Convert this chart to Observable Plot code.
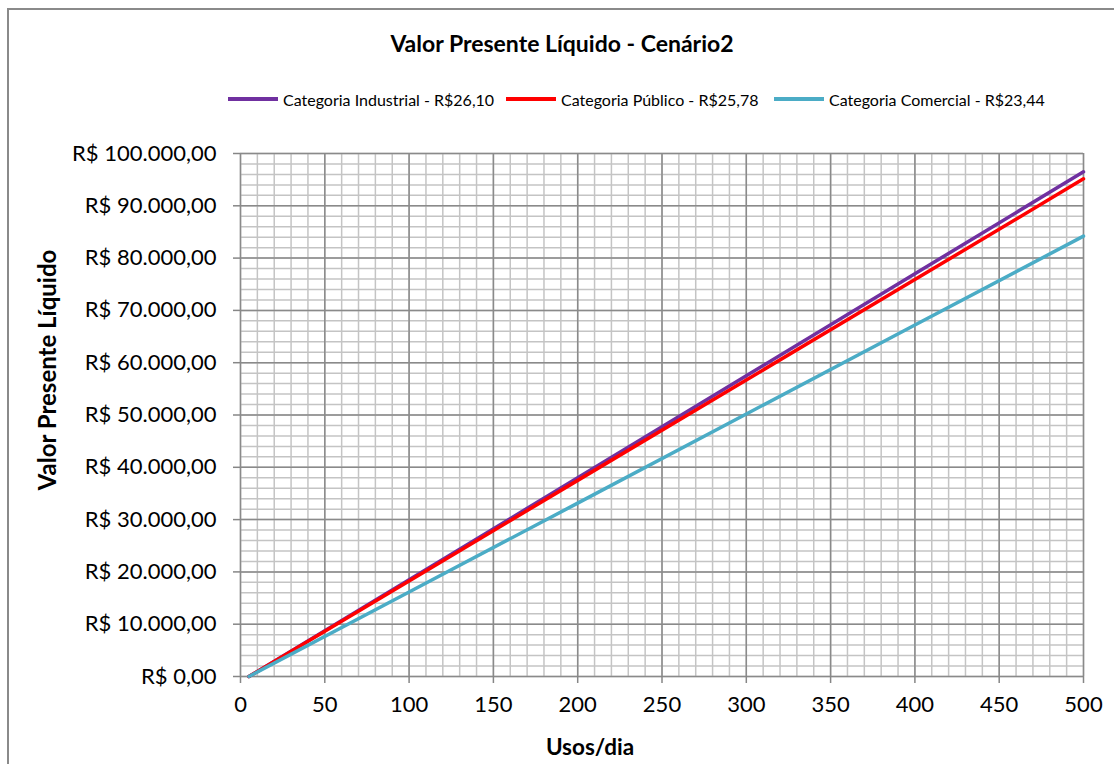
<!DOCTYPE html>
<html>
<head>
<meta charset="utf-8">
<script src="https://cdn.jsdelivr.net/npm/d3@7"></script>
<script src="https://cdn.jsdelivr.net/npm/@observablehq/plot@0.6"></script>
<style>
  html, body { margin: 0; padding: 0; background: #fff; }
  #wrap { position: relative; width: 1114px; height: 764px; overflow: hidden; font-family: Lato, "Open Sans", sans-serif; color: #000; }
  #border { position: absolute; left: 7px; top: 8px; width: 1200px; height: 900px; border-left: 2px solid #8a8a8a; border-top: 2px solid #8a8a8a; }
  #title { position: absolute; left: 0; width: 1124px; top: 29px; text-align: center; font-weight: bold; font-size: 23px; line-height: 28px; }
  .leg { position: absolute; top: 89px; height: 20px; font-size: 16px; white-space: nowrap; display: flex; align-items: center; }
  .leg span.sw { display: inline-block; width: 50px; height: 4px; margin-right: 5px; }
  #ytitle { position: absolute; left: 46px; top: 370px; transform: translate(-50%, -50%) rotate(-90deg); font-weight: bold; font-size: 24px; white-space: nowrap; }
  #xtitle { position: absolute; left: 590px; top: 733px; transform: translateX(-50%); font-weight: bold; font-size: 22.5px; white-space: nowrap; }
  #chart { position: absolute; left: 0; top: 0; }
  #chart g[aria-label="y-axis tick"] path, #chart g[aria-label="x-axis tick"] path { stroke: #868686; stroke-width: 1.5; }
</style>
</head>
<body>
<div id="wrap">
  <div id="border"></div>
  <div id="chart"></div>
  <div id="title">Valor Presente Líquido - Cenário2</div>
  <div id="legend"></div>
  <div id="ytitle">Valor Presente Líquido</div>
  <div id="xtitle">Usos/dia</div>
</div>
<script>
// ---- data ----
const usos = [5, 100, 200, 300, 400, 500];
const industrial = [0, 18500, 38000, 57500, 77000, 96500];
const publico = [0, 18250, 37500, 56700, 75900, 95150];
const comercial = [0, 16150, 33150, 50200, 67200, 84200];
const seriesNames = ["Categoria Industrial - R$26,10", "Categoria Público - R$25,78", "Categoria Comercial - R$23,44"];
const seriesColors = ["#7030A0", "#FF0000", "#4BACC6"];
const xTicks = [0, 50, 100, 150, 200, 250, 300, 350, 400, 450, 500];
const yTicks = [0, 10000, 20000, 30000, 40000, 50000, 60000, 70000, 80000, 90000, 100000];
const xMinor = d3.range(0, 501, 10);
const yMinor = d3.range(0, 100001, 2000);

const allSeries = [industrial, publico, comercial];
const rows = [];
allSeries.forEach((vals, s) => vals.forEach((v, i) => rows.push({usos: usos[i], valor: v, serie: seriesNames[s]})));

const loc = d3.formatLocale({decimal: ",", thousands: ".", grouping: [3], currency: ["R$ ", ""]});
const fmt = loc.format("$,.2f");

const chart = Plot.plot({
  width: 1114,
  height: 764,
  marginLeft: 240,
  marginRight: 31,
  marginTop: 153,
  marginBottom: 88,
  style: {fontFamily: "Lato, 'Open Sans', sans-serif", fontSize: "22px", color: "#000", background: "transparent"},
  x: {domain: [0, 500], label: null},
  y: {domain: [0, 100000], label: null},
  color: {domain: seriesNames, range: seriesColors},
  marks: [
    Plot.ruleX(xMinor, {stroke: "#c4c4c4", strokeWidth: 1.5}),
    Plot.ruleY(yMinor, {stroke: "#c4c4c4", strokeWidth: 1.5}),
    Plot.ruleX(xTicks, {stroke: "#8a8a8a", strokeWidth: 1.5}),
    Plot.ruleY(yTicks, {stroke: "#8a8a8a", strokeWidth: 1.5}),
    Plot.axisY(yTicks, {tickSize: 7, tickPadding: 17, tickFormat: fmt, fontSize: 22, fill: "#000", label: null}),
    Plot.axisX(xTicks, {tickSize: 7, tickPadding: 13, tickFormat: d => String(d), fontSize: 22, fill: "#000", label: null}),
    Plot.line(rows, {x: "usos", y: "valor", stroke: "serie", strokeWidth: 3.5, z: "serie"})
  ]
});
document.getElementById("chart").appendChild(chart);

// legend
const legLefts = [228, 506, 774];
const legend = document.getElementById("legend");
seriesNames.forEach((n, i) => {
  const d = document.createElement("div");
  d.className = "leg";
  d.style.left = legLefts[i] + "px";
  d.innerHTML = `<span class="sw" style="background:${seriesColors[i]}"></span><span>${n}</span>`;
  legend.appendChild(d);
});
</script>
</body>
</html>
